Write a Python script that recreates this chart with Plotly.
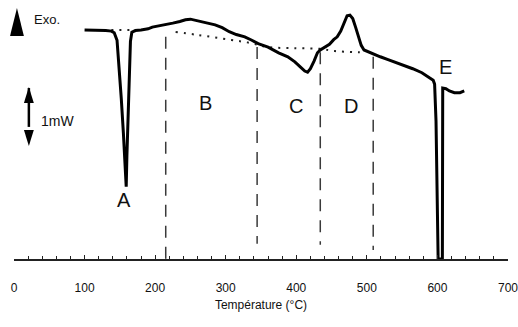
import plotly.graph_objects as go

# DSC curve: temperature (°C) and heat flow (mW, relative; exo up)
temperature = [100, 110, 120, 130, 138, 142, 146, 149, 152, 155, 157, 159, 160, 161, 162, 163, 165, 167,
               172, 180, 190, 196, 205, 215, 225, 235, 243, 250, 257, 265, 275, 285, 295, 305, 315, 327,
               337, 346, 360, 375, 388, 398, 406, 412, 416, 420, 425, 430, 434, 440, 447, 453, 458, 463,
               468, 472, 476, 480, 484, 488, 492, 496, 505, 519, 530, 541, 552, 565, 578, 589, 594, 596,
               598, 601, 604, 607, 607.5, 612, 617, 624, 632, 638]
heat_flow = [0.00, 0.00, -0.01, -0.01, -0.02, -0.05, -0.18, -0.65, -1.20, -1.81, -2.30, -2.75, -2.20,
             -1.81, -1.20, -0.65, -0.20, -0.04, -0.01, 0.00, 0.02, 0.05, 0.07, 0.09, 0.12, 0.15, 0.18,
             0.19, 0.17, 0.15, 0.12, 0.09, 0.04, -0.03, -0.08, -0.12, -0.18, -0.24, -0.30, -0.40, -0.47,
             -0.56, -0.65, -0.72, -0.74, -0.68, -0.55, -0.40, -0.35, -0.31, -0.25, -0.17, -0.12, -0.02,
             0.12, 0.25, 0.26, 0.20, 0.05, -0.10, -0.27, -0.35, -0.40, -0.47, -0.52, -0.57, -0.61, -0.68,
             -0.75, -0.84, -0.88, -0.95, -1.60, -4.02, -4.02, -4.02, -1.02, -1.03, -1.07, -1.10, -1.10,
             -1.07]

# Dotted baselines
base1_t = [138, 168]
base1_y = [0.00, 0.00]
base2_t = [229, 261, 308, 336, 360, 400, 433, 455, 490]
base2_y = [-0.035, -0.088, -0.175, -0.23, -0.30, -0.32, -0.33, -0.37, -0.39]

# Dashed region boundaries
bound_t = [215, 344.5, 434, 509]
bound_top = [-0.12, -0.30, -0.39, -0.47]
bound_bot = [-4.02, -3.75, -3.77, -3.86]

# Region labels
label_text = ["A", "B", "C", "D", "E"]
label_t = [156, 271, 399, 477, 611]
label_y = [-2.98, -1.28, -1.33, -1.33, -0.65]

x_ticks = [0, 100, 200, 300, 400, 500, 600, 700]

FONT = "Liberation Sans, Arial, sans-serif"

fig = go.Figure()

for t, y0, y1 in zip(bound_t, bound_top, bound_bot):
    fig.add_trace(go.Scatter(x=[t, t], y=[y0, y1], mode="lines",
                             line=dict(color="#3a3a3a", width=1.5, dash="12px,9px"),
                             hoverinfo="skip", showlegend=False))

fig.add_trace(go.Scatter(x=base1_t, y=base1_y, mode="lines",
                         line=dict(color="#222", width=2, dash="2px,6px"), showlegend=False))
fig.add_trace(go.Scatter(x=base2_t, y=base2_y, mode="lines", line_shape="spline",
                         line=dict(color="#222", width=2, dash="2px,6px"), showlegend=False))

fig.add_trace(go.Scatter(x=temperature, y=heat_flow, mode="lines",
                         line=dict(color="black", width=3), showlegend=False))

for txt, t, y in zip(label_text, label_t, label_y):
    fig.add_annotation(x=t, y=y, text=txt, showarrow=False,
                       font=dict(family=FONT, size=20, color="#111"))

# Exo triangle and label (paper coordinates)
fig.add_shape(type="path", xref="paper", yref="paper",
              path="M -0.008,0.861 L 0.020,0.861 L 0.006,0.969 Z",
              fillcolor="black", line=dict(width=0))
fig.add_annotation(xref="paper", yref="paper", x=0.036, y=0.925, text="Exo.",
                   showarrow=False, xanchor="left", yanchor="middle",
                   font=dict(family=FONT, size=13, color="#111"))

# 1 mW scale double arrow
fig.add_shape(type="line", xref="paper", yref="paper",
              x0=0.0301, x1=0.0301, y0=0.51, y1=0.66, line=dict(color="black", width=2.5))
fig.add_shape(type="path", xref="paper", yref="paper",
              path="M 0.0201,0.602 L 0.0401,0.602 L 0.0301,0.664 Z",
              fillcolor="black", line=dict(width=0))
fig.add_shape(type="path", xref="paper", yref="paper",
              path="M 0.0201,0.498 L 0.0401,0.498 L 0.0301,0.436 Z",
              fillcolor="black", line=dict(width=0))
fig.add_annotation(xref="paper", yref="paper", x=0.05, y=0.533, text="1mW",
                   showarrow=False, xanchor="left", yanchor="middle",
                   font=dict(family=FONT, size=14, color="#111"))

fig.update_layout(
    width=518, height=327,
    margin=dict(l=14, r=6, t=0, b=68),
    paper_bgcolor="white", plot_bgcolor="white",
    font=dict(family=FONT, color="#111"),
    xaxis=dict(range=[0, 700], tickvals=x_ticks, ticktext=[str(v) for v in x_ticks],
               showline=True, linecolor="#222", linewidth=1.5,
               ticks="inside", ticklen=4, tickwidth=1.2, tickcolor="#222",
               minor=dict(dtick=20, tick0=0, ticks="inside", ticklen=3, tickwidth=1, tickcolor="#222"),
               showgrid=False, zeroline=False,
               tickfont=dict(family=FONT, size=12, color="#111"),
               ticklabelstandoff=17, ticklabeloverflow="allow",
               title=dict(text="Température (°C)", standoff=6,
                          font=dict(family=FONT, size=12, color="#111"))),
    yaxis=dict(range=[-4.018, 0.526], visible=False, showgrid=False, zeroline=False),
)

fig.write_html("out.html")
